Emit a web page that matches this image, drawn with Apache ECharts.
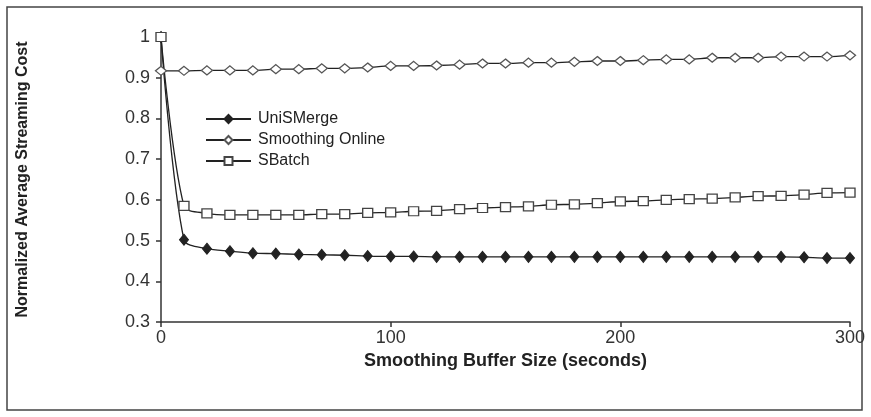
<!DOCTYPE html>
<html>
<head>
<meta charset="utf-8">
<script src="https://cdn.jsdelivr.net/npm/echarts@6/dist/echarts.min.js"></script>
<style>
html,body{margin:0;padding:0;background:#fff;}
#chart{width:871px;height:417px;}
</style>
</head>
<body>
<div id="chart"></div>
<script>
var bufferSizes = [0,10,20,30,40,50,60,70,80,90,100,110,120,130,140,150,160,170,180,190,200,210,220,230,240,250,260,270,280,290,300];
var uniSMerge = [1.0,0.502,0.480,0.474,0.469,0.468,0.466,0.465,0.464,0.462,0.461,0.461,0.460,0.460,0.460,0.460,0.460,0.460,0.460,0.460,0.460,0.460,0.460,0.460,0.460,0.460,0.460,0.460,0.459,0.457,0.457];
var smoothingOnline = [0.917,0.917,0.918,0.918,0.918,0.921,0.921,0.923,0.923,0.925,0.929,0.929,0.930,0.932,0.935,0.935,0.937,0.937,0.939,0.941,0.941,0.943,0.945,0.945,0.949,0.949,0.949,0.952,0.952,0.952,0.955];
var sBatch = [1.0,0.585,0.567,0.563,0.563,0.563,0.563,0.565,0.565,0.568,0.569,0.572,0.573,0.577,0.580,0.582,0.584,0.588,0.589,0.592,0.596,0.597,0.600,0.602,0.603,0.606,0.609,0.610,0.613,0.617,0.618];
var seriesNames = ['UniSMerge','Smoothing Online','SBatch'];
var xTitle = 'Smoothing Buffer Size (seconds)';
var yTitle = 'Normalized Average Streaming Cost';

function pairs(vals){ return bufferSizes.map(function(x,i){ return [x, vals[i]]; }); }

var chart = echarts.init(document.getElementById('chart'), null, {renderer:'canvas'});
var axisColor = '#333';
var tickFont = {fontFamily:'Liberation Sans', fontSize:18, color:'#333'};

chart.setOption({
  animation:false,
  backgroundColor:'#fff',
  graphic:[{type:'rect', shape:{x:7,y:7,width:855,height:403}, style:{fill:'none', stroke:'#444', lineWidth:1.5}, silent:true}],
  grid:{left:161, right:21, top:37, bottom:95},
  legend:{
    orient:'vertical', left:200, top:105, itemWidth:45, itemHeight:10, itemGap:3,
    textStyle:{fontFamily:'Liberation Sans', fontSize:16, color:'#222', lineHeight:18, padding:[0,0,0,2]},
    data:seriesNames
  },
  xAxis:{
    type:'value', min:0, max:300, interval:100,
    name:xTitle, nameLocation:'middle', nameGap:20,
    nameTextStyle:{fontFamily:'Liberation Sans', fontWeight:'bold', fontSize:18, color:'#222'},
    axisLine:{show:true, lineStyle:{color:axisColor, width:1.5}},
    axisTick:{show:true, length:5, lineStyle:{color:axisColor, width:1.5}},
    axisLabel:Object.assign({margin:7}, tickFont),
    splitLine:{show:false}
  },
  yAxis:{
    type:'value', min:0.3, max:1, interval:0.1,
    name:yTitle, nameLocation:'middle', nameGap:130,
    nameTextStyle:{fontFamily:'Liberation Sans', fontWeight:'bold', fontSize:16, color:'#222'},
    axisLine:{show:true, lineStyle:{color:axisColor, width:1.5}},
    axisTick:{show:true, length:5, lineStyle:{color:axisColor, width:1.5}},
    axisLabel:Object.assign({margin:11, formatter:function(v){return String(Math.round(v*10)/10);}}, tickFont),
    splitLine:{show:false}
  },
  series:[
    {name:seriesNames[0], type:'line', data:pairs(uniSMerge), smooth:0.3,
     symbol:'diamond', symbolSize:[9,11], showAllSymbol:true,
     lineStyle:{color:'#222', width:1.3}, itemStyle:{color:'#222', borderColor:'#222', borderWidth:1}},
    {name:seriesNames[1], type:'line', data:pairs(smoothingOnline), smooth:0.3,
     symbol:'diamond', symbolSize:[11,9], showAllSymbol:true,
     lineStyle:{color:'#222', width:1.3}, itemStyle:{color:'#fff', borderColor:'#555', borderWidth:1.3}},
    {name:seriesNames[2], type:'line', data:pairs(sBatch), smooth:0.3,
     symbol:'rect', symbolSize:[10,9], showAllSymbol:true,
     lineStyle:{color:'#222', width:1.3}, itemStyle:{color:'#fff', borderColor:'#444', borderWidth:1.3}}
  ]
});
</script>
</body>
</html>
